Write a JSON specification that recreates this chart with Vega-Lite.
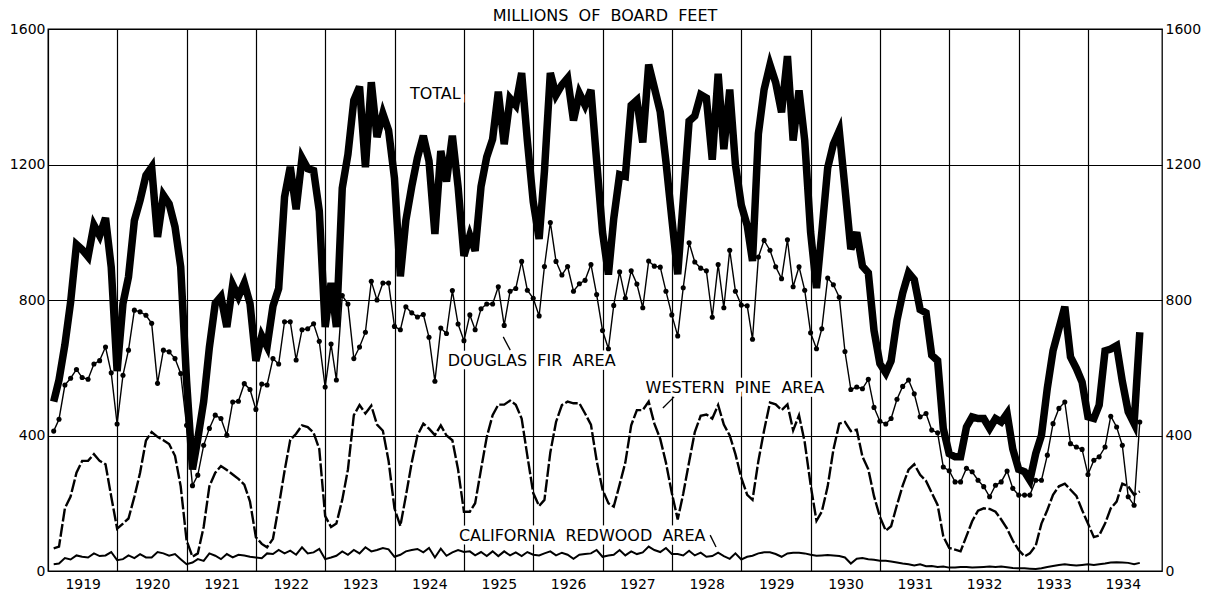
{
  "$schema": "https://vega.github.io/schema/vega-lite/v6.json",
  "width": 1114,
  "height": 542,
  "autosize": {"type": "none"},
  "padding": {"left": 48, "top": 29, "right": 43, "bottom": 22},
  "background": "white",
  "config": {
    "view": {"stroke": "black", "strokeWidth": 1.3},
    "font": "DejaVu Sans",
    "axis": {"labelFont": "DejaVu Sans", "labelColor": "black"}
  },
  "title": {"text": "MILLIONS\u00a0\u00a0OF\u00a0\u00a0BOARD\u00a0\u00a0FEET", "fontSize": 16, "fontWeight": "normal", "font": "DejaVu Sans", "color": "black", "offset": 8, "dy": 10, "anchor": "middle"},
  "datasets": {
    "monthly": [
      {"date":"1919-01-31","total":500,"fir":413,"pine":67,"redwood":20},
      {"date":"1919-02-28","total":564,"fir":448,"pine":72,"redwood":22},
      {"date":"1919-03-31","total":668,"fir":549,"pine":185,"redwood":38},
      {"date":"1919-04-30","total":793,"fir":569,"pine":220,"redwood":34},
      {"date":"1919-05-31","total":964,"fir":595,"pine":290,"redwood":46},
      {"date":"1919-06-30","total":949,"fir":571,"pine":325,"redwood":42},
      {"date":"1919-07-31","total":928,"fir":566,"pine":325,"redwood":40},
      {"date":"1919-08-31","total":1021,"fir":611,"pine":345,"redwood":52},
      {"date":"1919-09-30","total":990,"fir":621,"pine":325,"redwood":44},
      {"date":"1919-10-31","total":1042,"fir":661,"pine":315,"redwood":46},
      {"date":"1919-11-30","total":897,"fir":585,"pine":220,"redwood":56},
      {"date":"1919-12-31","total":590,"fir":434,"pine":125,"redwood":32},
      {"date":"1920-01-31","total":790,"fir":578,"pine":140,"redwood":35},
      {"date":"1920-02-29","total":868,"fir":652,"pine":155,"redwood":46},
      {"date":"1920-03-31","total":1035,"fir":770,"pine":219,"redwood":38},
      {"date":"1920-04-30","total":1094,"fir":765,"pine":290,"redwood":50},
      {"date":"1920-05-31","total":1168,"fir":755,"pine":385,"redwood":40},
      {"date":"1920-06-30","total":1192,"fir":731,"pine":410,"redwood":40},
      {"date":"1920-07-31","total":986,"fir":554,"pine":396,"redwood":56},
      {"date":"1920-08-31","total":1109,"fir":652,"pine":386,"redwood":52},
      {"date":"1920-09-30","total":1084,"fir":647,"pine":375,"redwood":45},
      {"date":"1920-10-31","total":1016,"fir":627,"pine":340,"redwood":50},
      {"date":"1920-11-30","total":898,"fir":583,"pine":250,"redwood":35},
      {"date":"1920-12-31","total":560,"fir":430,"pine":90,"redwood":20},
      {"date":"1921-01-31","total":300,"fir":252,"pine":42,"redwood":25},
      {"date":"1921-02-28","total":390,"fir":283,"pine":52,"redwood":35},
      {"date":"1921-03-31","total":500,"fir":371,"pine":130,"redwood":30},
      {"date":"1921-04-30","total":660,"fir":421,"pine":250,"redwood":52},
      {"date":"1921-05-31","total":790,"fir":460,"pine":290,"redwood":45},
      {"date":"1921-06-30","total":810,"fir":450,"pine":310,"redwood":35},
      {"date":"1921-07-31","total":720,"fir":401,"pine":298,"redwood":50},
      {"date":"1921-08-31","total":845,"fir":499,"pine":285,"redwood":40},
      {"date":"1921-09-30","total":810,"fir":501,"pine":272,"redwood":48},
      {"date":"1921-10-31","total":850,"fir":553,"pine":255,"redwood":46},
      {"date":"1921-11-30","total":790,"fir":536,"pine":205,"redwood":42},
      {"date":"1921-12-31","total":620,"fir":477,"pine":100,"redwood":40},
      {"date":"1922-01-31","total":694,"fir":552,"pine":80,"redwood":38},
      {"date":"1922-02-28","total":663,"fir":549,"pine":70,"redwood":52},
      {"date":"1922-03-31","total":782,"fir":627,"pine":95,"redwood":50},
      {"date":"1922-04-30","total":834,"fir":611,"pine":190,"redwood":62},
      {"date":"1922-05-31","total":1104,"fir":736,"pine":295,"redwood":52},
      {"date":"1922-06-30","total":1193,"fir":736,"pine":387,"redwood":60},
      {"date":"1922-07-31","total":1068,"fir":623,"pine":405,"redwood":48},
      {"date":"1922-08-31","total":1219,"fir":712,"pine":430,"redwood":70},
      {"date":"1922-09-30","total":1188,"fir":715,"pine":425,"redwood":52},
      {"date":"1922-10-31","total":1182,"fir":730,"pine":408,"redwood":55},
      {"date":"1922-11-30","total":1063,"fir":678,"pine":360,"redwood":65},
      {"date":"1922-12-31","total":720,"fir":543,"pine":162,"redwood":35},
      {"date":"1923-01-31","total":850,"fir":670,"pine":130,"redwood":40},
      {"date":"1923-02-28","total":720,"fir":564,"pine":140,"redwood":45},
      {"date":"1923-03-31","total":1130,"fir":813,"pine":210,"redwood":58},
      {"date":"1923-04-30","total":1230,"fir":788,"pine":300,"redwood":48},
      {"date":"1923-05-31","total":1390,"fir":627,"pine":460,"redwood":62},
      {"date":"1923-06-30","total":1430,"fir":661,"pine":490,"redwood":52},
      {"date":"1923-07-31","total":1192,"fir":705,"pine":465,"redwood":70},
      {"date":"1923-08-31","total":1443,"fir":855,"pine":488,"redwood":58},
      {"date":"1923-09-30","total":1281,"fir":800,"pine":432,"redwood":62},
      {"date":"1923-10-31","total":1350,"fir":850,"pine":414,"redwood":68},
      {"date":"1923-11-30","total":1301,"fir":850,"pine":325,"redwood":64},
      {"date":"1923-12-31","total":1160,"fir":722,"pine":185,"redwood":42},
      {"date":"1924-01-31","total":870,"fir":712,"pine":133,"redwood":48},
      {"date":"1924-02-29","total":1035,"fir":780,"pine":221,"redwood":58},
      {"date":"1924-03-31","total":1135,"fir":762,"pine":320,"redwood":62},
      {"date":"1924-04-30","total":1220,"fir":750,"pine":400,"redwood":65},
      {"date":"1924-05-31","total":1285,"fir":757,"pine":435,"redwood":55},
      {"date":"1924-06-30","total":1210,"fir":690,"pine":420,"redwood":68},
      {"date":"1924-07-31","total":995,"fir":560,"pine":401,"redwood":40},
      {"date":"1924-08-31","total":1240,"fir":717,"pine":430,"redwood":66},
      {"date":"1924-09-30","total":1150,"fir":701,"pine":400,"redwood":45},
      {"date":"1924-10-31","total":1285,"fir":828,"pine":386,"redwood":55},
      {"date":"1924-11-30","total":1135,"fir":729,"pine":300,"redwood":62},
      {"date":"1924-12-31","total":930,"fir":680,"pine":175,"redwood":56},
      {"date":"1925-01-31","total":990,"fir":756,"pine":175,"redwood":58},
      {"date":"1925-02-28","total":945,"fir":712,"pine":200,"redwood":46},
      {"date":"1925-03-31","total":1135,"fir":774,"pine":300,"redwood":56},
      {"date":"1925-04-30","total":1222,"fir":788,"pine":395,"redwood":44},
      {"date":"1925-05-31","total":1275,"fir":788,"pine":460,"redwood":58},
      {"date":"1925-06-30","total":1415,"fir":839,"pine":491,"redwood":44},
      {"date":"1925-07-31","total":1260,"fir":725,"pine":491,"redwood":58},
      {"date":"1925-08-31","total":1395,"fir":826,"pine":503,"redwood":46},
      {"date":"1925-09-30","total":1375,"fir":834,"pine":491,"redwood":55},
      {"date":"1925-10-31","total":1470,"fir":914,"pine":450,"redwood":44},
      {"date":"1925-11-30","total":1270,"fir":829,"pine":340,"redwood":56},
      {"date":"1925-12-31","total":1090,"fir":805,"pine":230,"redwood":48},
      {"date":"1926-01-31","total":980,"fir":753,"pine":192,"redwood":46},
      {"date":"1926-02-28","total":1180,"fir":899,"pine":210,"redwood":52},
      {"date":"1926-03-31","total":1470,"fir":1029,"pine":350,"redwood":58},
      {"date":"1926-04-30","total":1405,"fir":914,"pine":440,"redwood":46},
      {"date":"1926-05-31","total":1435,"fir":874,"pine":490,"redwood":54},
      {"date":"1926-06-30","total":1455,"fir":899,"pine":500,"redwood":48},
      {"date":"1926-07-31","total":1330,"fir":826,"pine":495,"redwood":36},
      {"date":"1926-08-31","total":1410,"fir":848,"pine":495,"redwood":48},
      {"date":"1926-09-30","total":1375,"fir":858,"pine":465,"redwood":50},
      {"date":"1926-10-31","total":1420,"fir":905,"pine":432,"redwood":52},
      {"date":"1926-11-30","total":1210,"fir":816,"pine":326,"redwood":62},
      {"date":"1926-12-31","total":1000,"fir":710,"pine":240,"redwood":42},
      {"date":"1927-01-31","total":875,"fir":656,"pine":200,"redwood":46},
      {"date":"1927-02-28","total":1040,"fir":784,"pine":190,"redwood":48},
      {"date":"1927-03-31","total":1170,"fir":883,"pine":255,"redwood":62},
      {"date":"1927-04-30","total":1165,"fir":805,"pine":320,"redwood":46},
      {"date":"1927-05-31","total":1375,"fir":886,"pine":430,"redwood":58},
      {"date":"1927-06-30","total":1390,"fir":847,"pine":475,"redwood":50},
      {"date":"1927-07-31","total":1265,"fir":777,"pine":475,"redwood":55},
      {"date":"1927-08-31","total":1495,"fir":915,"pine":500,"redwood":72},
      {"date":"1927-09-30","total":1427,"fir":900,"pine":435,"redwood":62},
      {"date":"1927-10-31","total":1355,"fir":897,"pine":390,"redwood":56},
      {"date":"1927-11-30","total":1208,"fir":826,"pine":320,"redwood":68},
      {"date":"1927-12-31","total":1040,"fir":756,"pine":230,"redwood":50},
      {"date":"1928-01-31","total":876,"fir":694,"pine":152,"redwood":50},
      {"date":"1928-02-29","total":1094,"fir":836,"pine":228,"redwood":46},
      {"date":"1928-03-31","total":1328,"fir":969,"pine":322,"redwood":60},
      {"date":"1928-04-30","total":1343,"fir":912,"pine":410,"redwood":46},
      {"date":"1928-05-31","total":1406,"fir":894,"pine":458,"redwood":54},
      {"date":"1928-06-30","total":1396,"fir":886,"pine":462,"redwood":42},
      {"date":"1928-07-31","total":1214,"fir":749,"pine":450,"redwood":44},
      {"date":"1928-08-31","total":1468,"fir":905,"pine":490,"redwood":54},
      {"date":"1928-09-30","total":1245,"fir":777,"pine":432,"redwood":44},
      {"date":"1928-10-31","total":1421,"fir":947,"pine":400,"redwood":36},
      {"date":"1928-11-30","total":1200,"fir":826,"pine":345,"redwood":52},
      {"date":"1928-12-31","total":1080,"fir":785,"pine":275,"redwood":34},
      {"date":"1929-01-31","total":1020,"fir":783,"pine":225,"redwood":42},
      {"date":"1929-02-28","total":915,"fir":684,"pine":210,"redwood":45},
      {"date":"1929-03-31","total":1291,"fir":927,"pine":325,"redwood":52},
      {"date":"1929-04-30","total":1421,"fir":976,"pine":415,"redwood":55},
      {"date":"1929-05-31","total":1494,"fir":947,"pine":497,"redwood":55},
      {"date":"1929-06-30","total":1442,"fir":898,"pine":492,"redwood":50},
      {"date":"1929-07-31","total":1354,"fir":863,"pine":475,"redwood":42},
      {"date":"1929-08-31","total":1520,"fir":978,"pine":492,"redwood":52},
      {"date":"1929-09-30","total":1271,"fir":839,"pine":415,"redwood":54},
      {"date":"1929-10-31","total":1419,"fir":898,"pine":460,"redwood":54},
      {"date":"1929-11-30","total":1271,"fir":829,"pine":380,"redwood":52},
      {"date":"1929-12-31","total":1000,"fir":703,"pine":255,"redwood":48},
      {"date":"1930-01-31","total":835,"fir":656,"pine":148,"redwood":45},
      {"date":"1930-02-28","total":1000,"fir":715,"pine":175,"redwood":46},
      {"date":"1930-03-31","total":1190,"fir":865,"pine":250,"redwood":47},
      {"date":"1930-04-30","total":1260,"fir":845,"pine":358,"redwood":46},
      {"date":"1930-05-31","total":1300,"fir":808,"pine":435,"redwood":44},
      {"date":"1930-06-30","total":1130,"fir":648,"pine":440,"redwood":40},
      {"date":"1930-07-31","total":950,"fir":536,"pine":413,"redwood":22},
      {"date":"1930-08-31","total":1000,"fir":543,"pine":417,"redwood":36},
      {"date":"1930-09-30","total":900,"fir":538,"pine":338,"redwood":38},
      {"date":"1930-10-31","total":880,"fir":566,"pine":300,"redwood":35},
      {"date":"1930-11-30","total":710,"fir":483,"pine":221,"redwood":33},
      {"date":"1930-12-31","total":612,"fir":442,"pine":160,"redwood":30},
      {"date":"1931-01-31","total":585,"fir":434,"pine":119,"redwood":30},
      {"date":"1931-02-28","total":620,"fir":450,"pine":132,"redwood":28},
      {"date":"1931-03-31","total":740,"fir":507,"pine":195,"redwood":25},
      {"date":"1931-04-30","total":820,"fir":545,"pine":252,"redwood":22},
      {"date":"1931-05-31","total":880,"fir":564,"pine":299,"redwood":20},
      {"date":"1931-06-30","total":860,"fir":523,"pine":315,"redwood":16},
      {"date":"1931-07-31","total":772,"fir":455,"pine":284,"redwood":20},
      {"date":"1931-08-31","total":762,"fir":465,"pine":266,"redwood":14},
      {"date":"1931-09-30","total":637,"fir":416,"pine":231,"redwood":15},
      {"date":"1931-10-31","total":621,"fir":408,"pine":195,"redwood":12},
      {"date":"1931-11-30","total":420,"fir":307,"pine":102,"redwood":13},
      {"date":"1931-12-31","total":346,"fir":296,"pine":68,"redwood":10},
      {"date":"1932-01-31","total":337,"fir":263,"pine":63,"redwood":10},
      {"date":"1932-02-29","total":337,"fir":263,"pine":58,"redwood":12},
      {"date":"1932-03-31","total":425,"fir":303,"pine":103,"redwood":12},
      {"date":"1932-04-30","total":455,"fir":293,"pine":147,"redwood":10},
      {"date":"1932-05-31","total":450,"fir":268,"pine":178,"redwood":11},
      {"date":"1932-06-30","total":450,"fir":249,"pine":185,"redwood":12},
      {"date":"1932-07-31","total":421,"fir":219,"pine":183,"redwood":13},
      {"date":"1932-08-31","total":450,"fir":253,"pine":175,"redwood":12},
      {"date":"1932-09-30","total":440,"fir":263,"pine":152,"redwood":13},
      {"date":"1932-10-31","total":465,"fir":295,"pine":125,"redwood":11},
      {"date":"1932-11-30","total":360,"fir":244,"pine":90,"redwood":9},
      {"date":"1932-12-31","total":300,"fir":224,"pine":62,"redwood":8},
      {"date":"1933-01-31","total":293,"fir":224,"pine":43,"redwood":8},
      {"date":"1933-02-28","total":268,"fir":224,"pine":52,"redwood":7},
      {"date":"1933-03-31","total":347,"fir":268,"pine":75,"redwood":6},
      {"date":"1933-04-30","total":400,"fir":268,"pine":140,"redwood":8},
      {"date":"1933-05-31","total":540,"fir":342,"pine":180,"redwood":12},
      {"date":"1933-06-30","total":650,"fir":435,"pine":225,"redwood":15},
      {"date":"1933-07-31","total":715,"fir":480,"pine":250,"redwood":18},
      {"date":"1933-08-31","total":780,"fir":499,"pine":258,"redwood":20},
      {"date":"1933-09-30","total":632,"fir":376,"pine":240,"redwood":18},
      {"date":"1933-10-31","total":598,"fir":366,"pine":222,"redwood":16},
      {"date":"1933-11-30","total":558,"fir":359,"pine":180,"redwood":18},
      {"date":"1933-12-31","total":455,"fir":285,"pine":140,"redwood":20},
      {"date":"1934-01-31","total":450,"fir":327,"pine":100,"redwood":18},
      {"date":"1934-02-28","total":490,"fir":337,"pine":105,"redwood":20},
      {"date":"1934-03-31","total":650,"fir":366,"pine":140,"redwood":22},
      {"date":"1934-04-30","total":655,"fir":457,"pine":185,"redwood":25},
      {"date":"1934-05-31","total":665,"fir":425,"pine":205,"redwood":26},
      {"date":"1934-06-30","total":560,"fir":371,"pine":258,"redwood":25},
      {"date":"1934-07-31","total":470,"fir":219,"pine":250,"redwood":24},
      {"date":"1934-08-31","total":435,"fir":194,"pine":225,"redwood":20},
      {"date":"1934-09-30","total":705,"fir":440,"pine":235,"redwood":24}
    ],
    "labels": [
      {"date":"1924-08-02","value":1408,"label":"TOTAL"},
      {"date":"1925-12-23","value":620,"label":"DOUGLAS\u00a0\u00a0FIR\u00a0\u00a0AREA"},
      {"date":"1928-11-28","value":540,"label":"WESTERN\u00a0\u00a0PINE\u00a0\u00a0AREA"},
      {"date":"1926-09-15","value":103,"label":"CALIFORNIA\u00a0\u00a0REDWOOD\u00a0\u00a0AREA"}
    ],
    "leaders": [
      {"date":"1925-07-26","date2":"1925-09-01","value":691,"value2":652},
      {"date":"1928-01-12","date2":"1927-11-14","value":514,"value2":481},
      {"date":"1928-07-20","date2":"1928-08-20","value":106,"value2":71}
    ]
  },
  "data": {"name": "monthly"},
  "encoding": {
    "x": {
      "field": "date",
      "type": "temporal",
      "scale": {"type": "utc", "domain": [{"year":1919,"month":1,"date":1,"utc":true},{"year":1935,"month":1,"date":25,"utc":true}]},
      "axis": {
        "values": [
          {"year":1919,"month":1,"date":1,"utc":true},{"year":1920,"month":1,"date":1,"utc":true},
          {"year":1921,"month":1,"date":1,"utc":true},{"year":1922,"month":1,"date":1,"utc":true},
          {"year":1923,"month":1,"date":1,"utc":true},{"year":1924,"month":1,"date":1,"utc":true},
          {"year":1925,"month":1,"date":1,"utc":true},{"year":1926,"month":1,"date":1,"utc":true},
          {"year":1927,"month":1,"date":1,"utc":true},{"year":1928,"month":1,"date":1,"utc":true},
          {"year":1929,"month":1,"date":1,"utc":true},{"year":1930,"month":1,"date":1,"utc":true},
          {"year":1931,"month":1,"date":1,"utc":true},{"year":1932,"month":1,"date":1,"utc":true},
          {"year":1933,"month":1,"date":1,"utc":true},{"year":1934,"month":1,"date":1,"utc":true}
        ],
        "format": "%Y",
        "grid": true, "gridColor": "black", "gridWidth": 1.2, "gridOpacity": 1,
        "domain": false, "ticks": false,
        "labelOffset": 34.7, "labelPadding": 6, "labelFontSize": 14, "labelColor": "black",
        "labelFlush": false, "labelOverlap": false, "labelBound": false,
        "title": null
      }
    }
  },
  "layer": [
    {
      "data": {"name": "labels"},
      "mark": {"type": "text", "fontSize": 16, "font": "DejaVu Sans", "align": "center", "baseline": "middle", "stroke": "white", "strokeWidth": 7, "fill": "white"},
      "encoding": {
        "y": {"field": "value", "type": "quantitative", "scale": {"domain": [0, 1600], "nice": false}, "axis": null},
        "text": {"field": "label"}
      }
    },
    {
      "mark": {"type": "line", "color": "black", "strokeWidth": 2.4, "strokeDash": [13, 2.5]},
      "encoding": {
        "y": {
          "field": "pine", "type": "quantitative",
          "scale": {"domain": [0, 1600], "nice": false},
          "axis": {"orient": "left", "values": [0, 400, 800, 1200, 1600], "format": "d", "grid": true, "gridColor": "black", "gridWidth": 1.2, "gridOpacity": 1, "domain": false, "ticks": false, "labelPadding": 3, "labelFontSize": 14, "labelColor": "black", "labelFlush": false, "title": null}
        }
      }
    },
    {
      "mark": {"type": "line", "color": "black", "strokeWidth": 2},
      "encoding": {
        "y": {"field": "redwood", "type": "quantitative", "scale": {"domain": [0, 1600], "nice": false}, "axis": null}
      }
    },
    {
      "mark": {"type": "line", "color": "black", "strokeWidth": 1.4, "point": {"filled": true, "size": 26, "color": "black"}},
      "encoding": {
        "y": {"field": "fir", "type": "quantitative", "scale": {"domain": [0, 1600], "nice": false}, "axis": null}
      }
    },
    {
      "mark": {"type": "line", "color": "black", "strokeWidth": 7.5},
      "encoding": {
        "y": {
          "field": "total", "type": "quantitative",
          "scale": {"domain": [0, 1600], "nice": false},
          "axis": {"orient": "right", "values": [0, 400, 800, 1200, 1600], "format": "d", "grid": false, "domain": false, "ticks": false, "labelPadding": 3, "labelFontSize": 14, "labelColor": "black", "labelFlush": false, "title": null}
        }
      }
    },
    {
      "data": {"name": "leaders"},
      "mark": {"type": "rule", "color": "black", "strokeWidth": 1.3},
      "encoding": {
        "x2": {"field": "date2"},
        "y": {"field": "value", "type": "quantitative", "scale": {"domain": [0, 1600], "nice": false}, "axis": null},
        "y2": {"field": "value2"}
      }
    },
    {
      "data": {"name": "labels"},
      "mark": {"type": "text", "fontSize": 16, "font": "DejaVu Sans", "align": "center", "baseline": "middle", "color": "black"},
      "encoding": {
        "y": {"field": "value", "type": "quantitative", "scale": {"domain": [0, 1600], "nice": false}, "axis": null},
        "text": {"field": "label"}
      }
    }
  ],
  "resolve": {"axis": {"y": "independent"}}
}
